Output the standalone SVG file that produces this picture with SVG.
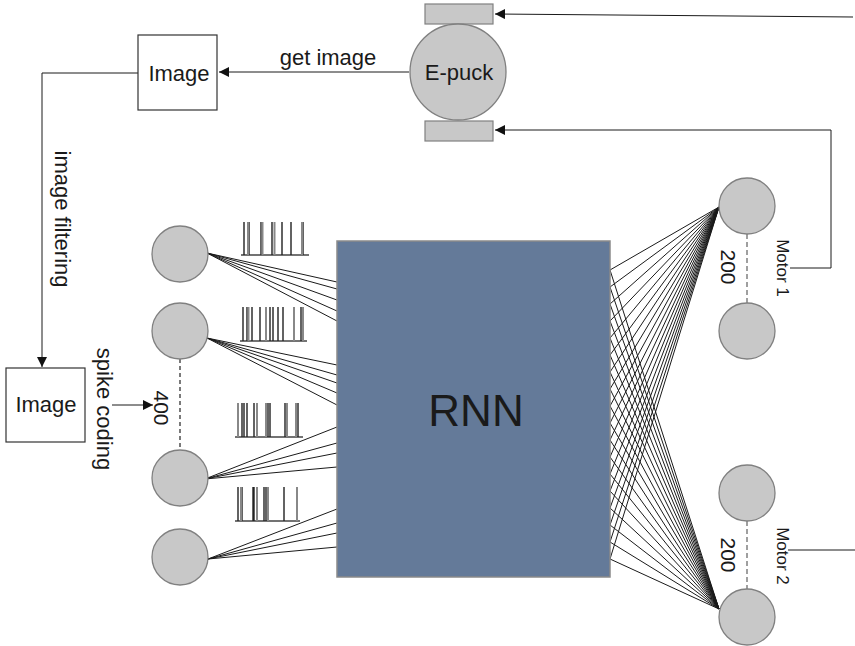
<svg xmlns="http://www.w3.org/2000/svg" width="855" height="646" viewBox="0 0 855 646">
<style>
text{font-family:"Liberation Sans",Arial,sans-serif;fill:#1a1a1a}
.n{fill:#c8c8c8;stroke:#808080;stroke-width:1.3}
.box{fill:#fff;stroke:#333;stroke-width:1.2}
.c{stroke:#1a1a1a;stroke-width:1;fill:none}
.d{stroke:#222;stroke-width:1.2;stroke-dasharray:4,3;fill:none}
.dg{stroke:#888;stroke-width:1.6;stroke-dasharray:5,3;fill:none}
.sk{stroke:#222;stroke-width:1.4}
.sg{stroke:#888;stroke-width:2}
.bl{stroke:#444;stroke-width:1.6}
</style>
<defs>
<marker id="ah" viewBox="0 0 10 10" refX="10" refY="5" markerWidth="10" markerHeight="10" markerUnits="userSpaceOnUse" orient="auto">
<path d="M0,0 L10,5 L0,10 z" fill="#111"/>
</marker>
</defs>
<rect width="855" height="646" fill="#fff"/>

<g id="connectors">
<path class="c" d="M207,253 L337,282 M207,253 L337,289 M207,253 L337,300 M207,253 L337,311 M207,253 L337,321"/>
<path class="c" d="M207,338 L337,365 M207,338 L337,375 M207,338 L337,383 M207,338 L337,393 M207,338 L337,405"/>
<path class="c" d="M205,479 L337,427 M205,479 L337,443 M205,479 L337,453 M205,479 L337,467"/>
<path class="c" d="M208,559 L337,509 M208,559 L337,523 M208,559 L337,533 M208,559 L337,547"/>
<path class="c" d="M610,270 L719,207 M610,287 L719,207 M610,304 L719,207 M610,321 L719,207 M610,338 L719,207 M610,355 L719,207 M610,372 L719,207 M610,389 L719,207 M610,406 L719,207 M610,423 L719,207 M610,440 L719,207 M610,457 L719,207 M610,474 L719,207 M610,491 L719,207 M610,508 L719,207 M610,525 L719,207 M610,542 L719,207 M610,559 L719,207"/>
<path class="c" d="M610,270 L719,609 M610,287 L719,609 M610,304 L719,609 M610,321 L719,609 M610,338 L719,609 M610,355 L719,609 M610,372 L719,609 M610,389 L719,609 M610,406 L719,609 M610,423 L719,609 M610,440 L719,609 M610,457 L719,609 M610,474 L719,609 M610,491 L719,609 M610,508 L719,609 M610,525 L719,609 M610,542 L719,609 M610,559 L719,609"/>
<line class="d" x1="180" y1="359" x2="180" y2="450"/>
<line class="dg" x1="747" y1="234" x2="747" y2="303"/>
<line class="dg" x1="747" y1="521" x2="747" y2="589"/>
<line class="c" x1="409" y1="72" x2="219" y2="72" marker-end="url(#ah)"/>
<path class="c" d="M138,73 L42,73 L42,367" marker-end="url(#ah)"/>
<line class="c" x1="112" y1="405" x2="153" y2="405" marker-end="url(#ah)"/>
<line class="c" x1="853" y1="17" x2="495" y2="14" marker-end="url(#ah)"/>
<path class="c" d="M790,268 L831,268 L831,130 L495,130" marker-end="url(#ah)"/>
<line class="c" x1="788" y1="550" x2="855" y2="550"/>
</g>

<g id="rnn">
<rect x="337" y="241" width="273" height="336" fill="#647a99" stroke="#8a8a8a" stroke-width="1.5"/>
<text x="476" y="426" font-size="44" text-anchor="middle">RNN</text>
</g>

<g id="in1"><circle class="n" cx="180" cy="254" r="28"/></g>
<g id="in2"><circle class="n" cx="180" cy="331" r="28"/></g>
<g id="in3"><circle class="n" cx="180" cy="478" r="28"/></g>
<g id="in4"><circle class="n" cx="180" cy="557" r="28"/></g>

<g id="out1"><circle class="n" cx="747" cy="206" r="28"/></g>
<g id="out2"><circle class="n" cx="747" cy="331" r="28"/></g>
<g id="out3"><circle class="n" cx="747" cy="493" r="28"/></g>
<g id="out4"><circle class="n" cx="747" cy="617" r="28"/></g>

<g id="spikes1">
<line class="bl" x1="241" y1="255" x2="309" y2="255"/>
<path class="sk" d="M244,222V255 M249,222V255 M261,222V255 M272,222V255 M282,222V255 M291,222V255 M303,222V255"/>
<path class="sg" d="M248,222V255 M262.5,222V255 M274.5,222V255 M302,222V255"/>
</g>
<g id="spikes2">
<line class="bl" x1="240" y1="341" x2="307" y2="341"/>
<path class="sk" d="M243,307V341 M247,307V341 M252,307V341 M260,307V341 M270,307V341 M273,307V341 M278,307V341 M283,307V341 M301,307V341"/>
<path class="sg" d="M248.5,307V341 M266,307V341 M294,307V341 M303,307V341"/>
</g>
<g id="spikes3">
<line class="bl" x1="235" y1="437" x2="303" y2="437"/>
<path class="sk" d="M242,403V437 M244,403V437 M247,403V437 M254,403V437 M268,403V437 M270,403V437 M285,403V437 M298,403V437"/>
<path class="sg" d="M238,403V437 M257,403V437 M266,403V437 M287,403V437 M296,403V437"/>
</g>
<g id="spikes4">
<line class="bl" x1="235" y1="521" x2="300" y2="521"/>
<path class="sk" d="M238,487V521 M242,487V521 M253,487V521 M254,487V521 M264,487V521 M266,487V521 M284,487V521"/>
<path class="sg" d="M241,487V521 M257,487V521 M268,487V521 M297,487V521"/>
</g>

<g id="epuck">
<rect x="425" y="4" width="68" height="20" fill="#c8c8c8" stroke="#808080" stroke-width="1.2"/>
<rect x="425" y="121" width="68" height="20" fill="#c8c8c8" stroke="#808080" stroke-width="1.2"/>
<circle class="n" cx="458" cy="72" r="48"/>
<text x="459" y="80" font-size="22" text-anchor="middle">E-puck</text>
</g>

<g id="image1">
<rect class="box" x="138" y="35" width="79" height="75"/>
<text x="179" y="81" font-size="22" text-anchor="middle">Image</text>
</g>
<g id="image2">
<rect class="box" x="6" y="368" width="79" height="74"/>
<text x="46" y="412" font-size="22" text-anchor="middle">Image</text>
</g>

<g id="labels">
<text x="328" y="65" font-size="22" text-anchor="middle">get image</text>
<text transform="translate(55,219) rotate(90)" font-size="22" text-anchor="middle">image filtering</text>
<text transform="translate(97,409) rotate(90)" font-size="22" text-anchor="middle">spike coding</text>
<text transform="translate(154,408) rotate(90)" font-size="21" text-anchor="middle">400</text>
<text transform="translate(721,267) rotate(90)" font-size="21" text-anchor="middle">200</text>
<text transform="translate(721,555) rotate(90)" font-size="21" text-anchor="middle">200</text>
<text transform="translate(777,268) rotate(90)" font-size="17" text-anchor="middle">Motor 1</text>
<text transform="translate(777,556) rotate(90)" font-size="17" text-anchor="middle">Motor 2</text>
</g>
</svg>
